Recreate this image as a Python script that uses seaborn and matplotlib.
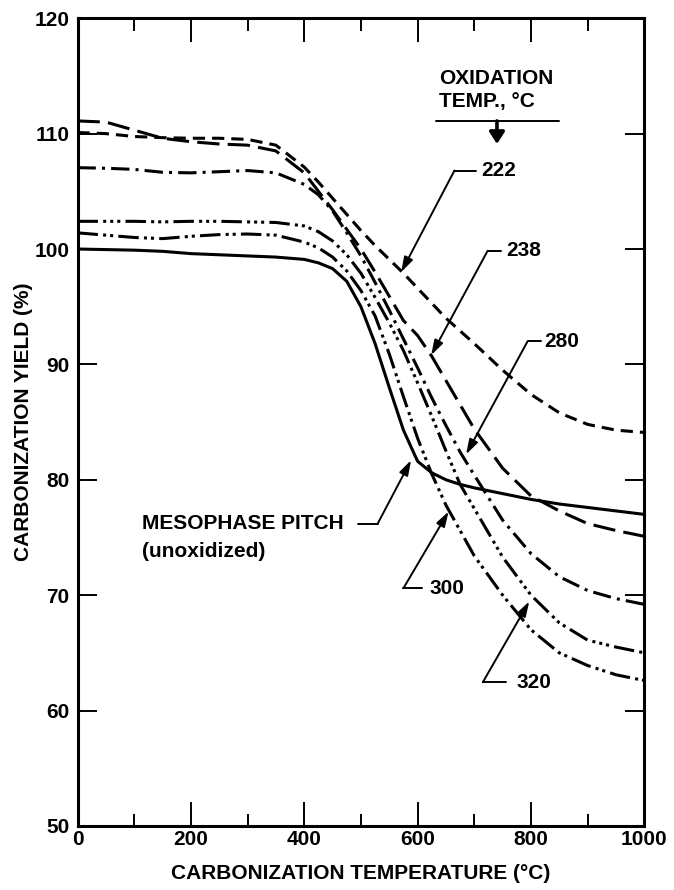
import pandas as pd
import matplotlib
matplotlib.use("Agg")
import matplotlib.pyplot as plt
import seaborn as sns

# carbonization temperature grid (deg C)
temps = [0, 50, 100, 150, 200, 250, 300, 350, 400, 425, 450, 475, 500, 525,
         550, 575, 600, 625, 650, 675, 700, 750, 800, 850, 900, 950, 1000]

# yield (%) per oxidation temperature
y_222 = [110.1, 110.0, 109.75, 109.65, 109.6, 109.6, 109.5, 109.0, 107.1, 105.8,
         104.4, 103.0, 101.6, 100.3, 99.1, 97.9, 96.6, 95.3, 94.0, 92.9, 91.8,
         89.5, 87.4, 85.8, 84.8, 84.3, 84.1]
y_238 = [111.1, 111.0, 110.3, 109.6, 109.3, 109.1, 109.0, 108.5, 106.6, 105.0,
         103.4, 101.7, 100.0, 98.0, 95.9, 93.8, 92.5, 90.7, 88.6, 86.5, 84.4,
         81.0, 78.6, 77.3, 76.2, 75.6, 75.1]
y_280 = [107.05, 107.0, 106.9, 106.65, 106.6, 106.7, 106.8, 106.6, 105.6, 104.7,
         103.3, 101.4, 99.4, 97.1, 94.7, 92.2, 89.7, 87.1, 84.7, 82.4, 80.4,
         76.5, 73.6, 71.6, 70.4, 69.7, 69.2]
y_300 = [101.4, 101.2, 101.0, 100.9, 101.1, 101.25, 101.3, 101.2, 100.6, 100.1,
         99.3, 98.1, 96.4, 94.2, 90.9, 87.2, 83.6, 80.5, 77.8, 75.6, 73.4,
         70.0, 67.0, 65.0, 63.9, 63.1, 62.6]
y_320 = [102.4, 102.4, 102.4, 102.35, 102.4, 102.4, 102.35, 102.3, 102.0, 101.5,
         100.7, 99.5, 97.9, 95.8, 93.6, 91.2, 88.4, 85.5, 82.5, 79.6, 77.5,
         73.3, 70.0, 67.6, 66.1, 65.5, 65.0]
y_meso = [100.0, 99.95, 99.9, 99.8, 99.6, 99.5, 99.4, 99.3, 99.1, 98.8, 98.3,
          97.2, 95.0, 91.8, 88.0, 84.3, 81.6, 80.6, 80.0, 79.6, 79.3, 78.8,
          78.3, 77.9, 77.6, 77.3, 77.0]

series = {"222": y_222, "238": y_238, "280": y_280,
          "300": y_300, "320": y_320, "meso": y_meso}

rows = []
for name, vals in series.items():
    for t, v in zip(temps, vals):
        rows.append({"temp": t, "yield": v, "series": name})
df = pd.DataFrame(rows)

# line styles (dash units scale with linewidth)
dash_map = {
    "222": (4.0, 2.3),
    "238": (7.3, 2.7),
    "280": (6.0, 2.0, 1.0, 2.0),
    "300": (6.7, 1.7, 1.0, 1.3, 1.0, 1.7),
    "320": (6.7, 1.7, 1.0, 1.3, 1.0, 1.3, 1.0, 1.7),
    "meso": "",
}
palette = {k: "black" for k in series}

sns.set_style("ticks")
plt.rcParams["font.family"] = ["Liberation Sans", "DejaVu Sans"]
plt.rcParams["font.weight"] = "bold"
plt.rcParams["axes.labelweight"] = "bold"
plt.rcParams["text.color"] = "black"
plt.rcParams["axes.labelcolor"] = "black"
FS = 15

fig = plt.figure(figsize=(6.74, 8.90), dpi=100)
ax = fig.add_axes([0.115, 0.072, 0.841, 0.9075])

sns.lineplot(data=df, x="temp", y="yield", hue="series", style="series",
             palette=palette, dashes=dash_map, linewidth=2.2, legend=False,
             estimator=None, ax=ax)

ax.set_xlim(0, 1000)
ax.set_ylim(50, 120)
ax.set_xticks(range(0, 1001, 200))
ax.set_xticks(range(100, 1000, 200), minor=True)
ax.set_yticks(range(50, 121, 10))
ax.tick_params(axis="both", which="both", direction="in", top=True, right=True,
               width=1.4, labelsize=FS, colors="black")
ax.tick_params(axis="x", which="major", length=17, pad=3)
ax.tick_params(axis="x", which="minor", length=9)
ax.tick_params(axis="y", which="major", length=14, pad=6)
for sp in ax.spines.values():
    sp.set_linewidth(2.2)
    sp.set_color("black")

ax.set_xlabel("CARBONIZATION TEMPERATURE (°C)", fontsize=FS, fontweight="bold")
ax.set_ylabel("CARBONIZATION YIELD (%)", fontsize=FS, fontweight="bold")
ax.xaxis.set_label_coords(0.5, -0.047)
ax.yaxis.set_label_coords(-0.078, 0.5)

# header for the oxidation temperature labels
ax.text(638, 114.8, "OXIDATION", fontsize=FS, va="center", ha="left")
ax.text(638, 112.8, "TEMP., °C", fontsize=FS, va="center", ha="left")
ax.plot([632, 849], [111.1, 111.1], color="black", lw=1.4)
ax.annotate("", xy=(740, 109.1), xytext=(740, 111.1),
            arrowprops=dict(arrowstyle="-|>,head_length=0.7,head_width=0.45",
                            lw=2.6, color="black", mutation_scale=10,
                            shrinkA=0, shrinkB=0))

# leader labels: text x, text y, bend start x, bend x, tip x, tip y
leaders = [
    ("222", 712, 106.8, 703, 665, 571, 98.0),
    ("238", 756, 99.85, 747, 723.6, 624, 90.8),
    ("280", 824, 92.0, 818, 794, 685.5, 82.2),
    ("300", 621, 70.6, 608, 575, 654.7, 77.25),
    ("320", 774, 62.45, 756, 715, 797, 69.46),
]
arrow_kw = dict(arrowstyle="-|>,head_length=0.9,head_width=0.28", lw=1.4,
                color="black", mutation_scale=10, shrinkA=0, shrinkB=0)
for lab, tx, ty, x0, x1, ax_tip, ay_tip in leaders:
    ax.text(tx, ty, lab, fontsize=FS, va="center", ha="left")
    ax.plot([x0, x1], [ty, ty], color="black", lw=1.4)
    ax.annotate("", xy=(ax_tip, ay_tip), xytext=(x1, ty), arrowprops=arrow_kw)

ax.text(114, 76.2, "MESOPHASE PITCH", fontsize=FS, va="center", ha="left")
ax.text(114, 73.8, "(unoxidized)", fontsize=FS, va="center", ha="left")
ax.plot([494, 529.6], [76.2, 76.2], color="black", lw=1.4)
ax.annotate("", xy=(588.5, 81.7), xytext=(529.6, 76.2), arrowprops=arrow_kw)

fig.savefig("out.png", dpi=100)
plt.close(fig)
